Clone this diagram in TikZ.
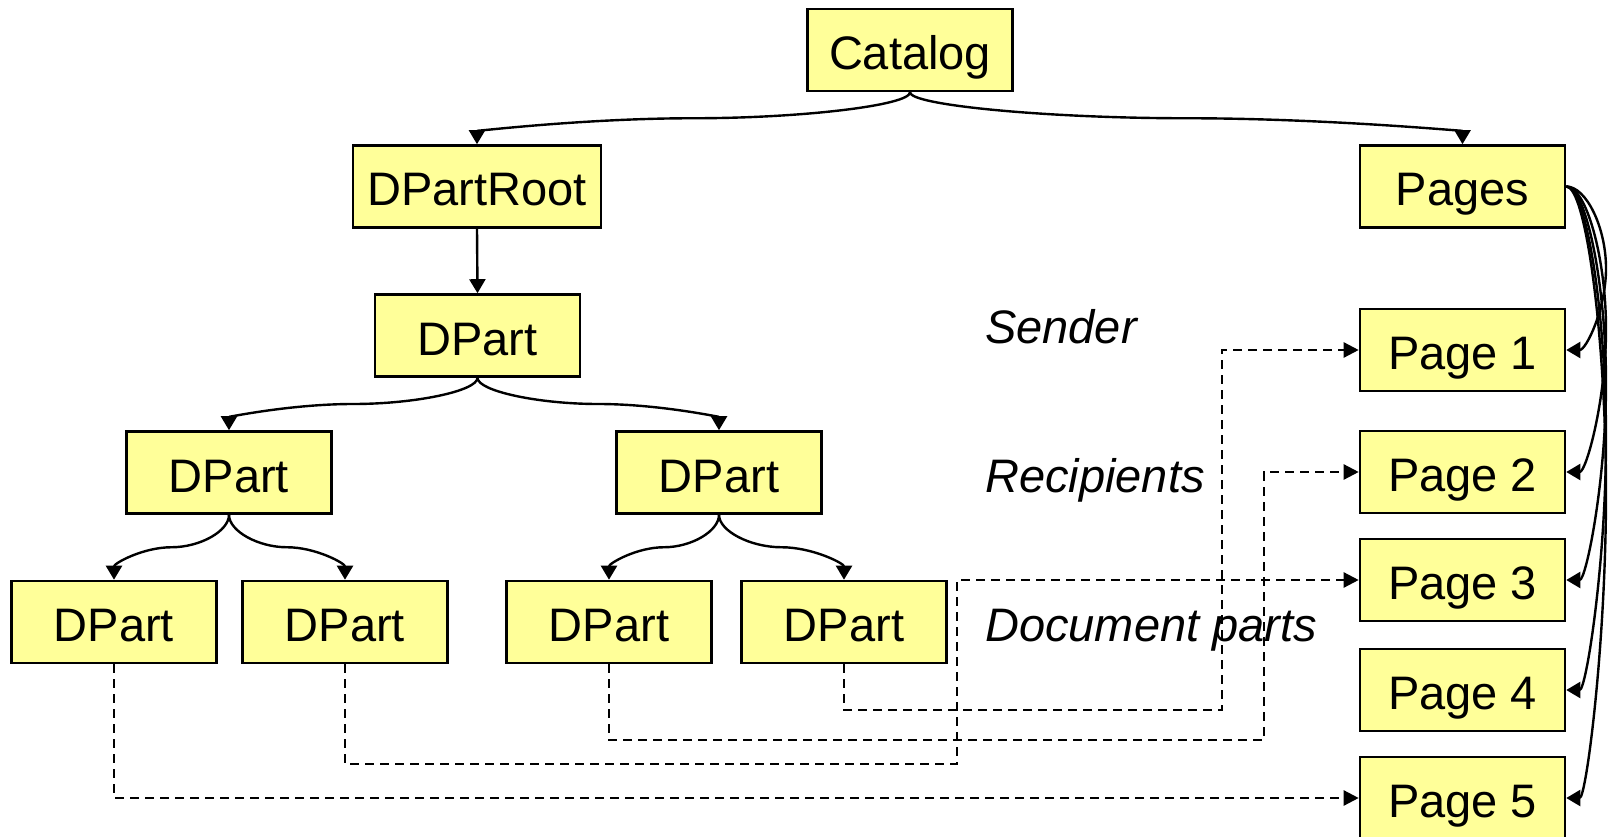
\documentclass[tikz,border=0pt]{standalone}
\usepackage{fontspec}
\setmainfont{Liberation Sans}
\usetikzlibrary{arrows.meta,calc}
\definecolor{boxfill}{RGB}{255,255,153}
\tikzset{
 box/.style={draw=black, line width=2.6pt, fill=boxfill, minimum width=205pt, minimum height=82pt, inner sep=0pt, font=\fontsize{47}{56}\selectfont, text height=39pt, text depth=0pt},
 lbl/.style={anchor=west, inner sep=0pt, font=\fontsize{47}{56}\selectfont\itshape, text height=39pt, text depth=0pt},
 arr/.style={line width=2.4pt, -{Triangle[length=14pt,width=16pt]}},
 dl/.style={line width=2.4pt, dash pattern=on 9pt off 6pt, -{Triangle[length=15pt,width=15pt]}},
}
\newcommand{\cdown}[2]{\draw[arr] let \p1=(#1.south), \p2=(#2.north) in (\p1) .. controls (\x1,{(3*\y1+\y2)/4}) and ({(3*\x1+\x2)/4},{(\y1+\y2)/2}) .. ({(\x1+\x2)/2},{(\y1+\y2)/2}) .. controls ({(\x1+3*\x2)/4},{(\y1+\y2)/2}) and (\x2,{(\y1+3*\y2)/4}) .. (\p2);}
\newcommand{\cright}[2]{\draw[arr] let \p1=(#1.east), \p2=(#2.east), \p3=(xo) in (\p1) .. controls ({(\x1+\x3)/2},\y1) and (\x3,{(3*\y1+\y2)/4}) .. (\x3,{(\y1+\y2)/2}) .. controls (\x3,{(\y1+3*\y2)/4}) and ({(\x2+\x3)/2},\y2) .. (\p2);}
\begin{document}
\begin{tikzpicture}[x=1pt,y=-1pt]
\useasboundingbox (0,0) rectangle (1612,837);
\node[box] (cat) at (910,50) {Catalog};
\node[box, minimum width=248pt] (root) at (477,186.5) {DPartRoot};
\node[box] (pages) at (1462.5,186.5) {Pages};
\node[box] (d1) at (477.5,335.5) {DPart};
\node[box] (d21) at (229,472.5) {DPart};
\node[box] (d22) at (719,472.5) {DPart};
\node[box] (d31) at (114,622) {DPart};
\node[box] (d32) at (345,622) {DPart};
\node[box] (d33) at (609,622) {DPart};
\node[box] (d34) at (844,622) {DPart};
\node[box] (p1) at (1462.5,350) {Page 1};
\node[box] (p2) at (1462.5,472) {Page 2};
\node[box] (p3) at (1462.5,580) {Page 3};
\node[box] (p4) at (1462.5,690) {Page 4};
\node[box] (p5) at (1462.5,798) {Page 5};
\coordinate (xo) at (1606,0);
\coordinate (c2) at (957,764);
\coordinate (c3) at (1264,740);
\coordinate (c4) at (1222,710);
% solid connectors
\cdown{cat}{root}
\cdown{cat}{pages}
\draw[arr] (root.south) -- (d1.north);
\cdown{d1}{d21}
\cdown{d1}{d22}
\cdown{d21}{d31}
\cdown{d21}{d32}
\cdown{d22}{d33}
\cdown{d22}{d34}
\cright{pages}{p1}
\cright{pages}{p2}
\cright{pages}{p3}
\cright{pages}{p4}
\cright{pages}{p5}
% dashed connectors
\draw[dl] (d31.south) |- (p5.west);
\draw[dl] (d32.south) |- (c2) |- (p3.west);
\draw[dl] (d33.south) |- (c3) |- (p2.west);
\draw[dl] (d34.south) |- (c4) |- (p1.west);
% labels
\node[lbl] (snd) at (985,324) {Sender};
\node[lbl] (rcp) at (985,473) {Recipients};
\node[lbl] (dps) at (985,622) {Document parts};
\end{tikzpicture}
\end{document}
